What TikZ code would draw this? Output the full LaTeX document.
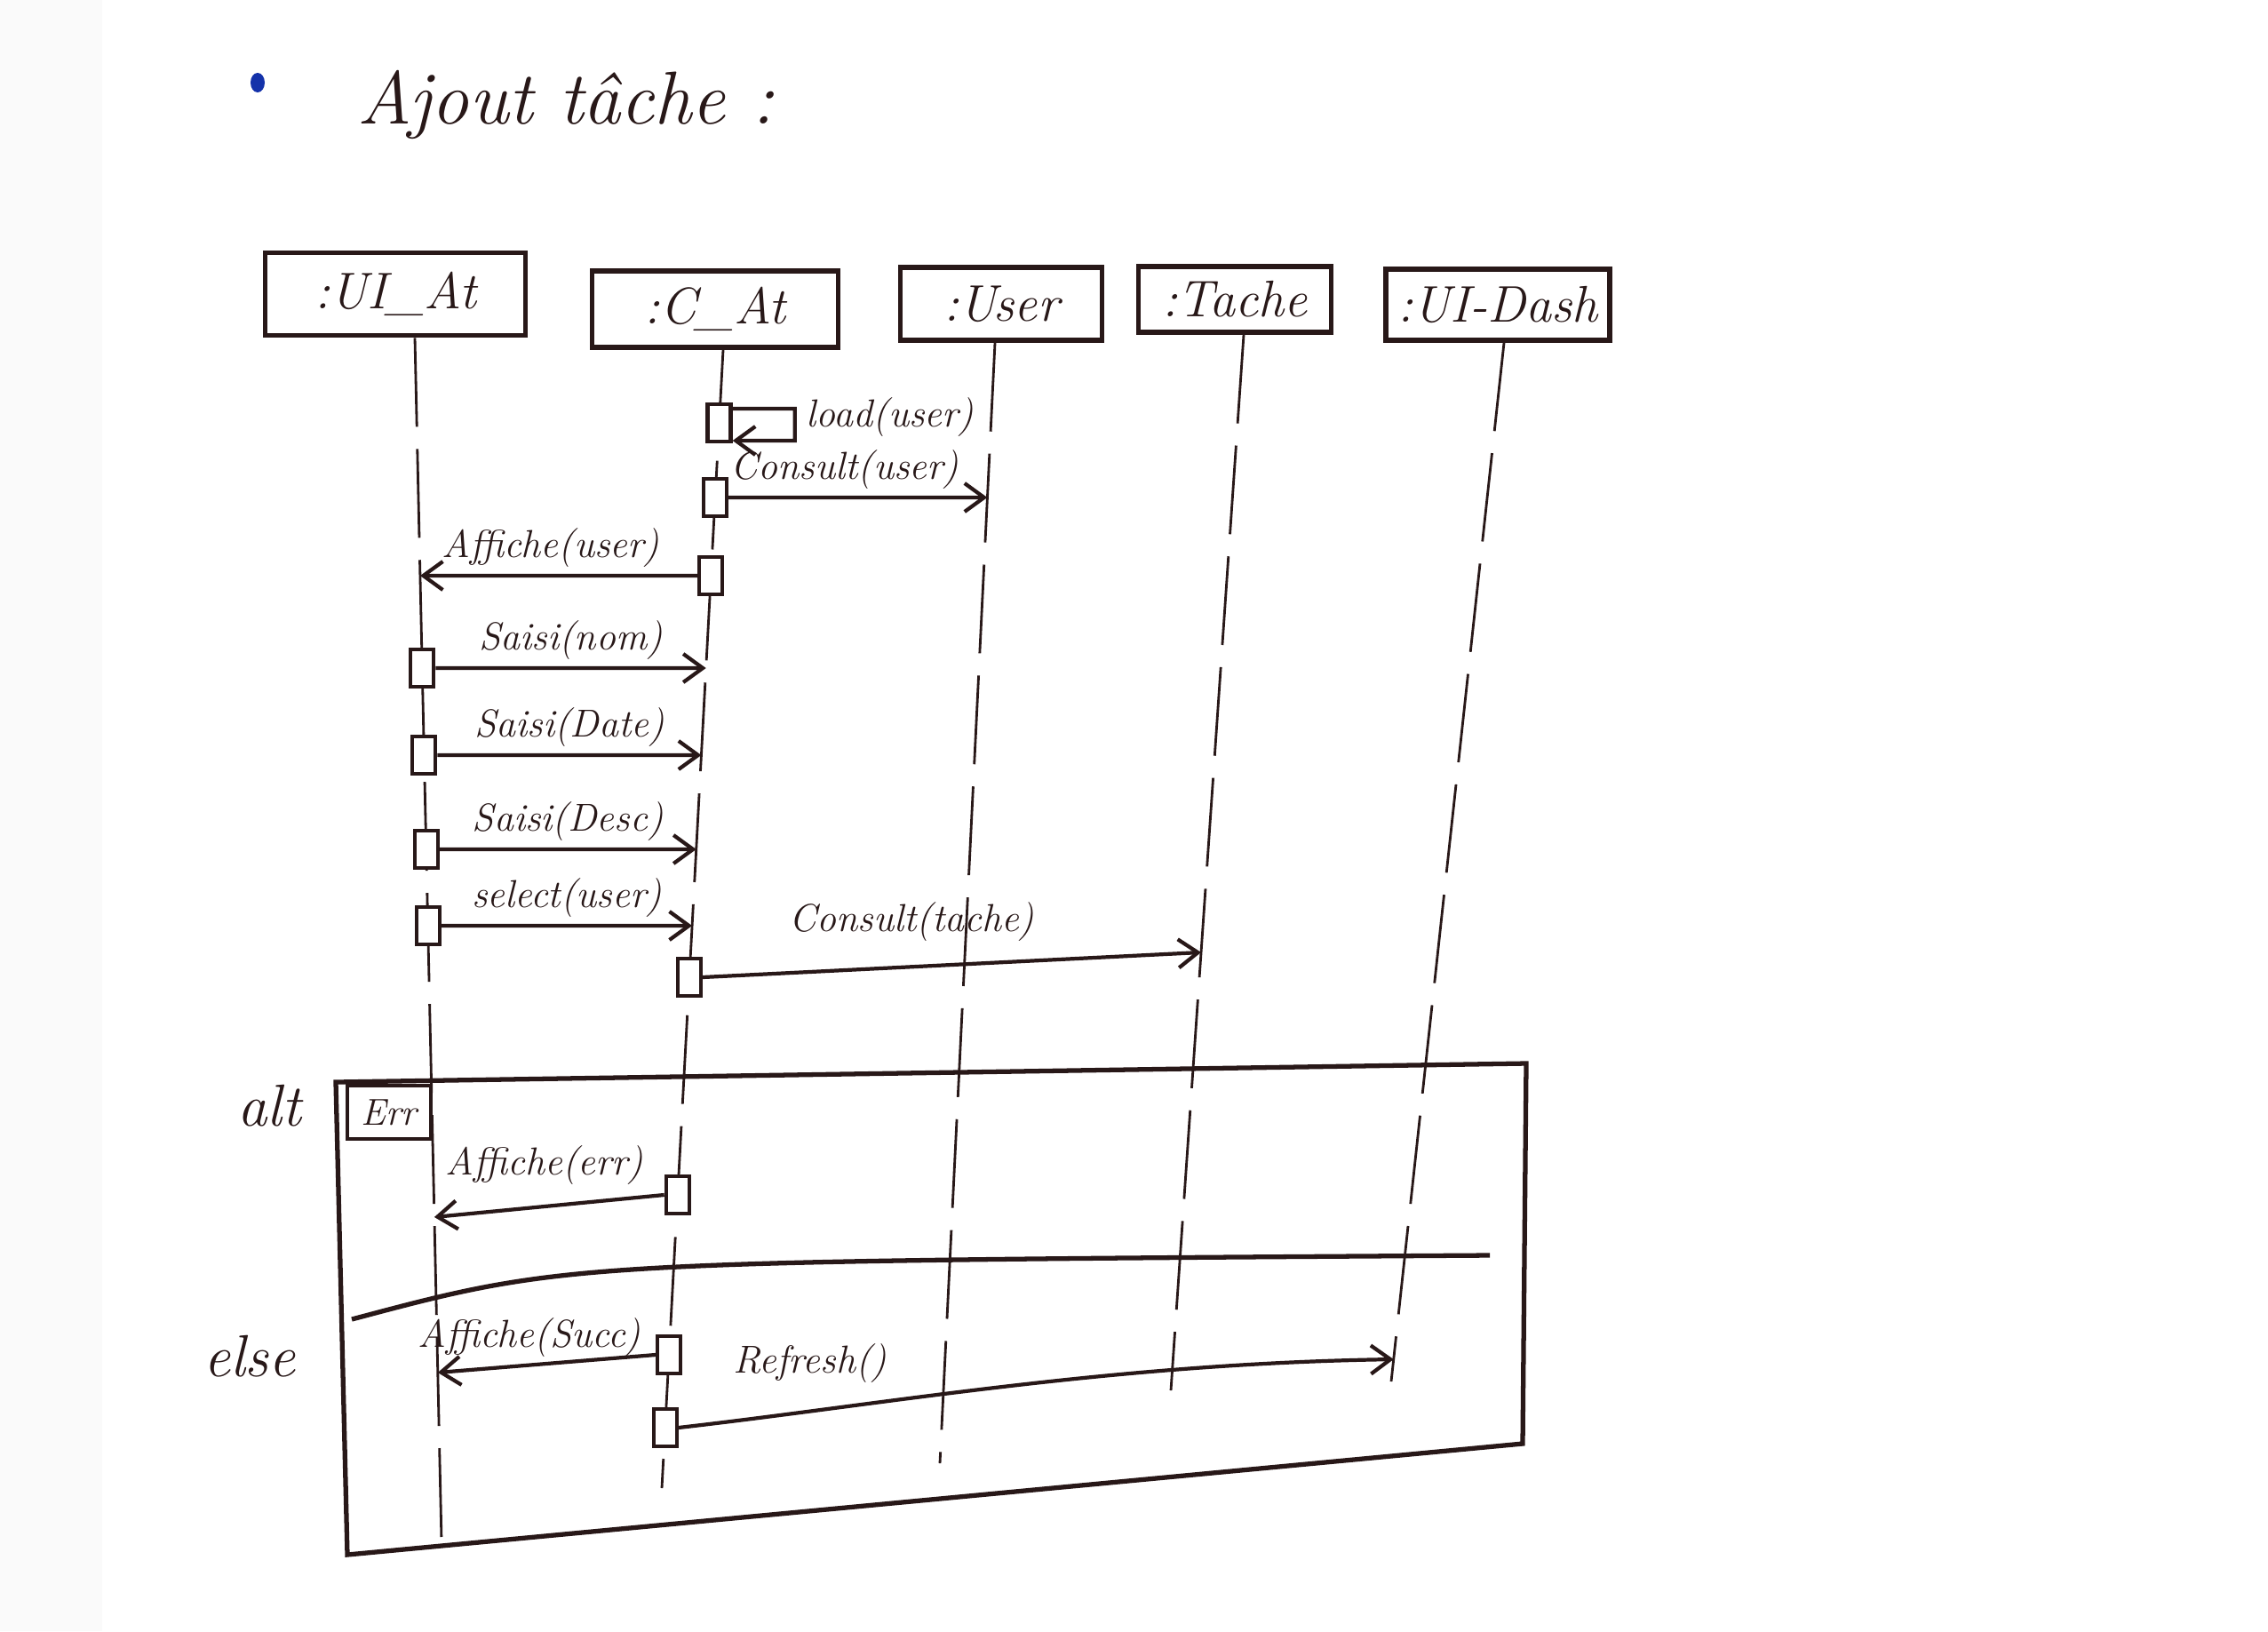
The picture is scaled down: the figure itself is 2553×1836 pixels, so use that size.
\documentclass[tikz,border=0pt]{standalone}
\usetikzlibrary{arrows.meta}
\definecolor{ink}{RGB}{40,24,24}
\definecolor{bulletblue}{RGB}{20,50,170}
\newcommand\lifept[3]{\coordinate (#1) at (intersection of #2T--#2B and 0,#3--2553,#3);}
\begin{document}
\begin{tikzpicture}[x=0.1mm,y=-0.1mm,
  obj/.style={draw=ink,line width=1.6pt,text=ink,font=\fontsize{16.5}{20}\selectfont\itshape,inner sep=2pt},
  life/.style={draw=ink,line width=0.8pt,dash pattern=on 10mm off 2.5mm},
  act/.style={draw=ink,fill=white,line width=1.2pt,minimum width=2.6mm,minimum height=4.2mm,inner sep=0pt},
  msg/.style={draw=ink,line width=1.2pt,-{Straight Barb[length=2.2mm,width=3.2mm]}},
  lbl/.style={text=ink,font=\fontsize{12.5}{15}\selectfont\itshape,inner sep=2pt},
  frame/.style={draw=ink,line width=1.5pt},
  guard/.style={draw=ink,line width=1.2pt,text=ink,font=\fontsize{12}{14}\selectfont\itshape,minimum width=9.4mm,minimum height=6mm,inner sep=1pt},
  oplbl/.style={text=ink,font=\fontsize{19}{22}\selectfont\itshape,inner sep=1pt},
]
\useasboundingbox (0,0) rectangle (2553,1836);
\fill[white] (0,0) rectangle (2553,1836);
\fill[gray!4] (0,0) rectangle (115,1836);

% title
\fill[bulletblue] (290,93) ellipse (8 and 11);
\node[text=ink,font=\fontsize{24}{28}\selectfont\itshape,anchor=west] (title) at (390,118) {Ajout tâche :};

% objects
\node[obj,minimum width=29.3mm,minimum height=9.3mm] (uiat) at (445,331) {:UI\_At};
\node[obj,minimum width=27.7mm,minimum height=8.6mm] (cat) at (805,348) {:C\_At};
\node[obj,minimum width=22.7mm,minimum height=8.2mm] (user) at (1127,342) {:User};
\node[obj,minimum width=21.7mm,minimum height=7.4mm] (tache) at (1390,337) {:Tache};
\node[obj,minimum width=25.2mm,minimum height=8.0mm] (dash) at (1686,343) {:UI-Dash};

% lifelines
\coordinate (uiatT) at ([xshift=2.2mm]uiat.south);
\coordinate (catT) at ([xshift=0.9mm]cat.south);
\coordinate (userT) at ([xshift=-0.7mm]user.south);
\coordinate (tacheT) at ([xshift=1mm]tache.south);
\coordinate (dashT) at ([xshift=0.7mm]dash.south);
\coordinate (uiatB) at (497,1735);
\coordinate (catB) at (745,1675);
\coordinate (userB) at (1058,1647);
\coordinate (tacheB) at (1318,1565);
\coordinate (dashB) at (1566,1555);
\draw[life] (uiatT) -- (uiatB);
\draw[life] (catT) -- (catB);
\draw[life] (userT) -- (userB);
\draw[life] (tacheT) -- (tacheB);
\draw[life] (dashT) -- (dashB);

% points on lifelines
\lifept{p1}{cat}{476}
\lifept{p2}{cat}{560}
\lifept{q2}{user}{560}
\lifept{p3}{cat}{648}
\lifept{q3}{uiat}{648}
\lifept{p4}{uiat}{752}
\lifept{q4}{cat}{752}
\lifept{p5}{uiat}{850}
\lifept{q5}{cat}{850}
\lifept{p6}{uiat}{956}
\lifept{q6}{cat}{956}
\lifept{p7}{uiat}{1042}
\lifept{q7}{cat}{1042}
\lifept{p8}{cat}{1100}
\lifept{q8}{tache}{1072}
\lifept{p9}{cat}{1345}
\lifept{q9}{uiat}{1370}
\lifept{p10}{cat}{1525}
\lifept{q10}{uiat}{1545}
\lifept{p11}{cat}{1607}
\lifept{q11}{dash}{1530}

% activations
\node[act] (a1) at (p1) {};
\node[act] (a2) at (p2) {};
\node[act] (a3) at (p3) {};
\node[act] (a4) at (p4) {};
\node[act] (a5) at (p5) {};
\node[act] (a6) at (p6) {};
\node[act] (a7) at (p7) {};
\node[act] (a8) at (p8) {};
\node[act] (a9) at (p9) {};
\node[act] (a10) at (p10) {};
\node[act] (a11) at (p11) {};

% messages
\draw[msg] ([yshift=1.6mm]a1.east) -- ++(70,0) -- ++(0,36) -- ([yshift=-2mm]a1.east);
\node[lbl,anchor=west] (l1) at (900,470) {load(user)};

\draw[msg] (a2.east) -- (q2) node[lbl,above,pos=0.45] (l2) {Consult(user)};
\draw[msg] (a3.west) -- (q3) node[lbl,above,pos=0.53] (l3) {Affiche(user)};
\draw[msg] (a4.east) -- (q4) node[lbl,above,midway] (l4) {Saisi(nom)};
\draw[msg] (a5.east) -- (q5) node[lbl,above,midway] (l5) {Saisi(Date)};
\draw[msg] (a6.east) -- (q6) node[lbl,above,midway] (l6) {Saisi(Desc)};
\draw[msg] (a7.east) -- (q7) node[lbl,above,midway] (l7) {select(user)};
\draw[msg] (a8.east) -- (q8) node[lbl,above,pos=0.42,yshift=2mm] (l8) {Consult(tache)};

% alt frame
\coordinate (fTL) at (378,1218);
\coordinate (fTR) at (1718,1197);
\coordinate (fBR) at (1714,1625);
\coordinate (fBL) at (391,1750);
\draw[frame] (fTL) -- (fTR) -- (fBR) -- (fBL) -- cycle;
\node[oplbl] (alt) at (303,1245) {alt};
\node[guard] (err) at (438,1252) {Err};

\coordinate (sepL) at (396,1485);
\coordinate (sepR) at (1677,1413);
\draw[frame] (sepL) .. controls (640,1420) .. (sepR);
\node[oplbl] (else) at (281,1527) {else};

\draw[msg] (a9.west) -- (q9) node[lbl,above,pos=0.52,yshift=1.5mm] (l9) {Affiche(err)};
\draw[msg] (a10.west) -- (q10) node[lbl,above,pos=0.58] (l10) {Affiche(Succ)};
\draw[msg] (a11.east) .. controls (1000,1580) and (1250,1535) .. (q11);
\node[lbl] (l11) at (912,1535) {Refresh()};
\end{tikzpicture}
\end{document}
